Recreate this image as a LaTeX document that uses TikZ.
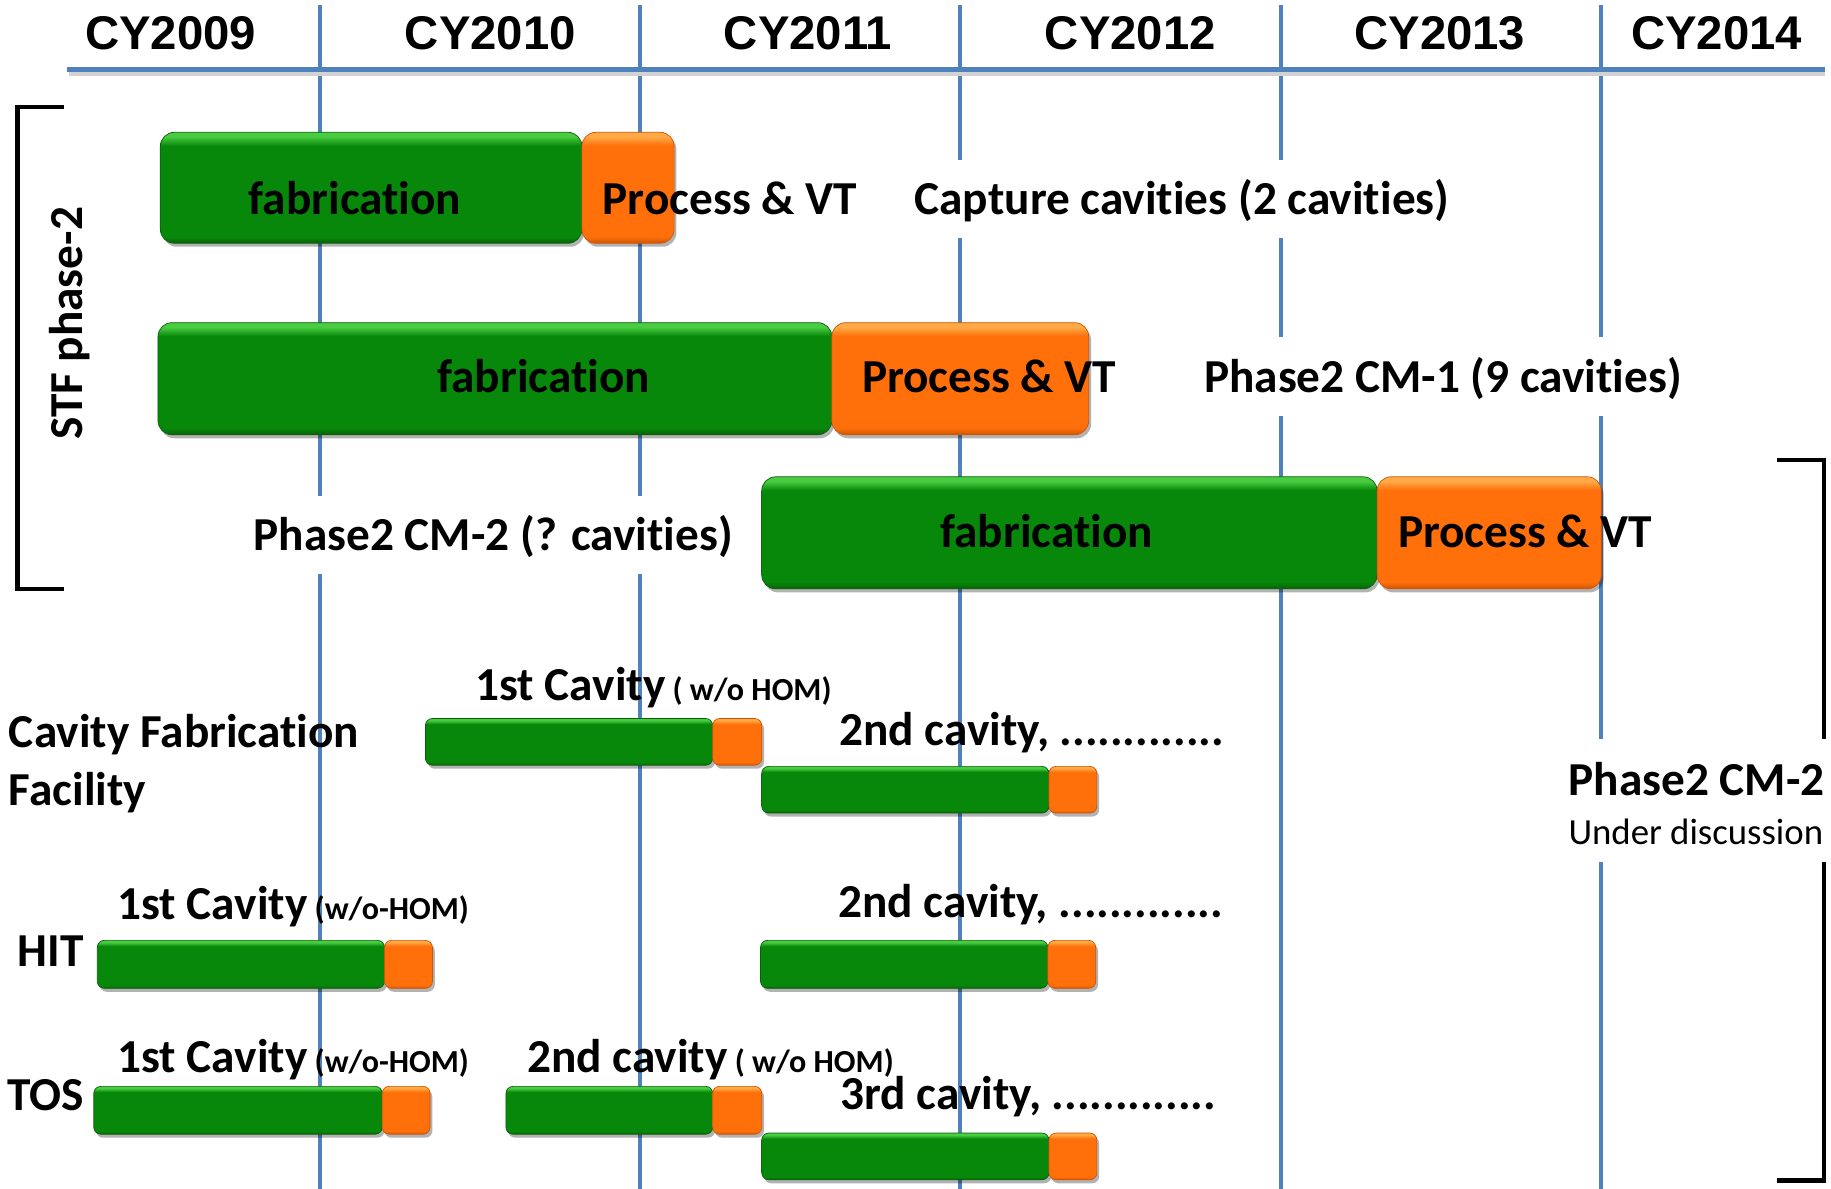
\documentclass[tikz,border=0pt]{standalone}
\usepackage{fontspec}
\setmainfont{Carlito}[Ligatures={NoCommon}]
\newfontfamily\arialfont{Liberation Sans}
\usetikzlibrary{shadows}
\definecolor{gmain}{RGB}{8,136,10}
\definecolor{glight}{RGB}{72,204,64}
\definecolor{gdark}{RGB}{10,96,10}
\definecolor{omain}{RGB}{255,111,10}
\definecolor{olight}{RGB}{255,170,70}
\definecolor{odark}{RGB}{205,85,5}
\definecolor{gridblue}{RGB}{79,129,189}
\pgfdeclareverticalshading{gshade}{100bp}{color(0bp)=(gdark); color(25bp)=(gdark); color(28bp)=(gmain); color(69bp)=(gmain); color(73bp)=(glight); color(75bp)=(glight); color(100bp)=(glight)}
\pgfdeclareverticalshading{oshade}{100bp}{color(0bp)=(odark); color(25bp)=(odark); color(28bp)=(omain); color(69bp)=(omain); color(73bp)=(olight); color(75bp)=(olight); color(100bp)=(olight)}
\newcommand{\fbig}{\fontsize{40.5pt}{44pt}\selectfont\bfseries}
\newcommand{\fsm}{\fontsize{27.5pt}{30pt}\selectfont\bfseries}
\newcommand{\fcy}{\arialfont\fontsize{40.5pt}{44pt}\selectfont\bfseries}
\newcommand{\fund}{\fontsize{31.5pt}{34pt}\selectfont}
\tikzset{
  barbase/.style={rectangle, inner sep=0pt, anchor=north west, line width=0.6pt,
    drop shadow={shadow xshift=2pt, shadow yshift=-3pt, opacity=0.3, fill=black}},
  gbig/.style={barbase, rounded corners=12pt, shade, shading=gshade, draw=gdark},
  obig/.style={barbase, rounded corners=12pt, shade, shading=oshade, draw=odark},
  gsml/.style={barbase, rounded corners=6pt, shade, shading=gshade, draw=gdark},
  osml/.style={barbase, rounded corners=6pt, shade, shading=oshade, draw=odark},
  lbl/.style={inner sep=0pt, anchor=base west, font=\fbig},
  wlbl/.style={lbl, fill=white, inner xsep=6pt, inner ysep=17pt, text height=30pt, text depth=3pt},
  cy/.style={inner sep=0pt, anchor=base, font=\fcy},
  grid/.style={gridblue, line width=3pt},
  brk/.style={black, line width=4pt},
}
\begin{document}
\begin{tikzpicture}[x=1pt,y=-1pt]
\useasboundingbox (0,0) rectangle (1568,1018);
% grid
\foreach \gx in {274,548,822,1097,1371}{
  \draw[grid] (\gx,4) -- (\gx,1018);
}
\draw[gray!35, line width=4pt] (59,63) -- (1563,63);
\draw[gridblue, line width=4.5pt] (57,59.5) -- (1563,59.5);
% year labels
\node[cy] (y09) at (146,42) {CY2009};
\node[cy] (y10) at (420,42) {CY2010};
\node[cy] (y11) at (692,42) {CY2011};
\node[cy] (y12) at (968,42) {CY2012};
\node[cy] (y13) at (1233,42) {CY2013};
\node[cy] (y14) at (1470,42) {CY2014};
% brackets
\draw[brk] (55,91.5) -- (15,91.5) -- (15,504.5) -- (55,504.5);
\draw[brk] (1522,394) -- (1562,394) -- (1562,1011) -- (1522,1011);
\node[rotate=90, inner sep=0pt, anchor=base, font=\fbig] (stf) at (71,277) {STF phase-2};
% big bars
\node[gbig, minimum width=361pt, minimum height=95pt] (g1) at (137,113) {};
\node[obig, minimum width=79pt, minimum height=95pt] (o1) at (498,113) {};
\node[gbig, minimum width=577pt, minimum height=96pt] (g2) at (135,276) {};
\node[obig, minimum width=220pt, minimum height=96pt] (o2) at (712,276) {};
\node[gbig, minimum width=527pt, minimum height=96pt] (g3) at (652,408) {};
\node[obig, minimum width=192pt, minimum height=96pt] (o3) at (1179,408) {};
% small bars
\node[gsml, minimum width=246pt, minimum height=40pt] (cg1) at (364,615) {};
\node[osml, minimum width=42pt, minimum height=40pt] (co1) at (610,615) {};
\node[gsml, minimum width=246pt, minimum height=40pt] (cg2) at (652,656) {};
\node[osml, minimum width=41pt, minimum height=40pt] (co2) at (898,656) {};
\node[gsml, minimum width=246pt, minimum height=41pt] (hg1) at (83,805) {};
\node[osml, minimum width=41pt, minimum height=41pt] (ho1) at (329,805) {};
\node[gsml, minimum width=246pt, minimum height=41pt] (hg2) at (651,805) {};
\node[osml, minimum width=41pt, minimum height=41pt] (ho2) at (897,805) {};
\node[gsml, minimum width=247pt, minimum height=41pt] (tg1) at (80,930) {};
\node[osml, minimum width=41pt, minimum height=41pt] (to1) at (327,930) {};
\node[gsml, minimum width=177pt, minimum height=41pt] (tg2) at (433,930) {};
\node[osml, minimum width=42pt, minimum height=41pt] (to2) at (610,930) {};
\node[gsml, minimum width=246pt, minimum height=40pt] (tg3) at (652,970) {};
\node[osml, minimum width=41pt, minimum height=40pt] (to3) at (898,970) {};
% row texts
\node[lbl, anchor=base] (fab1) at (304,184) {fabrication};
\node[lbl] (pv1) at (516,184) {Process \& VT};
\node[wlbl] (cap) at (777,184) {Capture cavities (2 cavities)};
\node[lbl, anchor=base] (fab2) at (465.5,336) {fabrication};
\node[lbl] (pv2) at (738,336) {Process \& VT};
\node[wlbl] (cm1) at (1025,336) {Phase2 CM-1 (9 cavities)};
\node[wlbl] (cm2q) at (211,471.5) {Phase2 CM-2 (? cavities)};
\node[lbl] (fab3) at (805,469) {fabrication};
\node[lbl] (pv3) at (1197,469) {Process \& VT};
% right label
\node[fill=white, inner sep=0pt, minimum width=228pt, minimum height=105pt, anchor=north west] (cm2bg) at (1340,633) {};
\node[lbl] (cm2) at (1343,681.5) {Phase2 CM-2};
\node[inner sep=0pt, anchor=base west, font=\fund] (und) at (1343,723) {Under discussion};
% left labels
\node[lbl] (cff1) at (7.5,640) {Cavity Fabrication};
\node[lbl] (cff2) at (7.5,689.5) {Facility};
\node[lbl] (hit) at (15,828) {HIT};
\node[lbl] (tos) at (6,951) {TOS};
% small bar labels
\node[lbl] (c1l) at (407,599.5) {1st Cavity{\fsm\ ( w/o HOM)}};
\node[lbl] (c2l) at (718.6,638.5) {2nd cavity, .............};
\node[lbl] (h1l) at (100.5,787) {1st Cavity{\fsm\ (w/o-HOM)}};
\node[lbl] (h2l) at (717.7,785.5) {2nd cavity, .............};
\node[lbl] (t1l) at (100.5,918.5) {1st Cavity{\fsm\ (w/o-HOM)}};
\node[lbl] (t2l) at (451.3,918.5) {2nd cavity{\fsm\ ( w/o HOM)}};
\node[lbl] (t3l) at (719.7,950.5) {3rd cavity, .............};
\end{tikzpicture}
\end{document}
